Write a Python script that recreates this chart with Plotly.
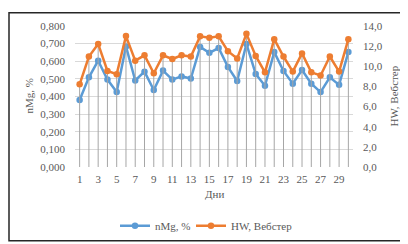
import plotly.graph_objects as go

days = list(range(1, 31))
nmg = [0.380, 0.509, 0.603, 0.496, 0.425, 0.684, 0.491, 0.541, 0.437, 0.547,
       0.496, 0.514, 0.502, 0.681, 0.648, 0.675, 0.568, 0.488, 0.698, 0.528,
       0.461, 0.652, 0.545, 0.473, 0.550, 0.473, 0.425, 0.509, 0.466, 0.652]
hw = [8.21, 10.97, 12.22, 9.53, 9.22, 13.00, 10.56, 11.09, 9.31, 11.09,
      10.72, 11.09, 10.97, 12.97, 12.84, 12.97, 11.50, 10.78, 13.22, 11.03,
      9.40, 12.69, 10.97, 9.47, 11.28, 9.40, 9.09, 10.97, 9.47, 12.69]
x_ticks = list(range(1, 31, 2))
left_ticks = [0.0, 0.1, 0.2, 0.3, 0.4, 0.5, 0.6, 0.7, 0.8]
right_ticks = [0.0, 2.0, 4.0, 6.0, 8.0, 10.0, 12.0, 14.0]

FONT = "Liberation Serif, Times New Roman, serif"
GREY = "#595959"
BLUE = "#5B9BD5"
ORANGE = "#ED7D31"

# drop lines from data
dx, dy = [], []
for d, v in zip(days, hw):
    dx += [d, d, None]
    dy += [0, v, None]

fig = go.Figure()
fig.add_trace(go.Scatter(x=dx, y=dy, yaxis="y2", mode="lines",
                         line=dict(color="#A6A6A6", width=1),
                         showlegend=False, hoverinfo="skip"))
fig.add_trace(go.Scatter(x=days, y=nmg, name="nMg, %", mode="lines+markers",
                         line=dict(color=BLUE, width=2.5),
                         marker=dict(color=BLUE, size=6.5), legend="legend"))
fig.add_trace(go.Scatter(x=days, y=hw, name="HW, Вебстер", yaxis="y2",
                         mode="lines+markers",
                         line=dict(color=ORANGE, width=2.5),
                         marker=dict(color=ORANGE, size=6.5), legend="legend2"))

L, R, T, B = 67, 63, 15, 80
W, H = 408, 244
pw, ph = W - L - R, H - T - B

def px(xp):
    return (xp - L) / pw

def py(yp):
    return (H - B - yp) / ph

leg_common = dict(orientation="h", yanchor="middle", y=py(226),
                  xanchor="left",
                  font=dict(family=FONT, size=11, color=GREY),
                  bgcolor="rgba(0,0,0,0)", itemwidth=30)

fig.update_layout(
    width=W, height=H,
    margin=dict(l=L, r=R, t=T, b=B, pad=0),
    paper_bgcolor="white", plot_bgcolor="white",
    separators=", ",
    font=dict(family=FONT, size=11, color=GREY),
    showlegend=True,
    legend=dict(x=px(107), **leg_common),
    legend2=dict(x=px(183), **leg_common),
    xaxis=dict(range=[0.5, 30.5], tickmode="array", tickvals=x_ticks,
               ticktext=[str(t) for t in x_ticks], showgrid=False,
               zeroline=False, showline=False, ticks="",
               ticklabelstandoff=4, fixedrange=True),
    yaxis=dict(range=[0, 0.8], tickmode="array", tickvals=left_ticks,
               tickformat=".3f", showgrid=True, gridcolor="#D9D9D9",
               gridwidth=1, zeroline=False, showline=False, ticks="",
               ticklabelstandoff=9),
    yaxis2=dict(range=[0, 14], overlaying="y", side="right",
                tickmode="array", tickvals=right_ticks, tickformat=".1f",
                showgrid=False, zeroline=False, showline=False, ticks="",
                ticklabelstandoff=9),
    annotations=[
        dict(text="nMg, %", xref="paper", yref="paper", x=px(20), y=0.5,
             xanchor="center", yanchor="middle", textangle=-90,
             showarrow=False, font=dict(family=FONT, size=11, color=GREY)),
        dict(text="HW, Вебстер", xref="paper", yref="paper", x=px(385),
             y=0.5, xanchor="center", yanchor="middle", textangle=-90,
             showarrow=False, font=dict(family=FONT, size=11, color=GREY)),
        dict(text="Дни", xref="paper", yref="paper", x=0.5, y=py(193),
             xanchor="center", yanchor="middle", showarrow=False,
             font=dict(family=FONT, size=11, color=GREY)),
    ],
    shapes=[dict(type="rect", xref="paper", yref="paper",
                 x0=px(1), x1=px(405), y0=py(242), y1=py(1),
                 line=dict(color="#262626", width=1.5), layer="above")],
)

fig.write_html("out.html")
